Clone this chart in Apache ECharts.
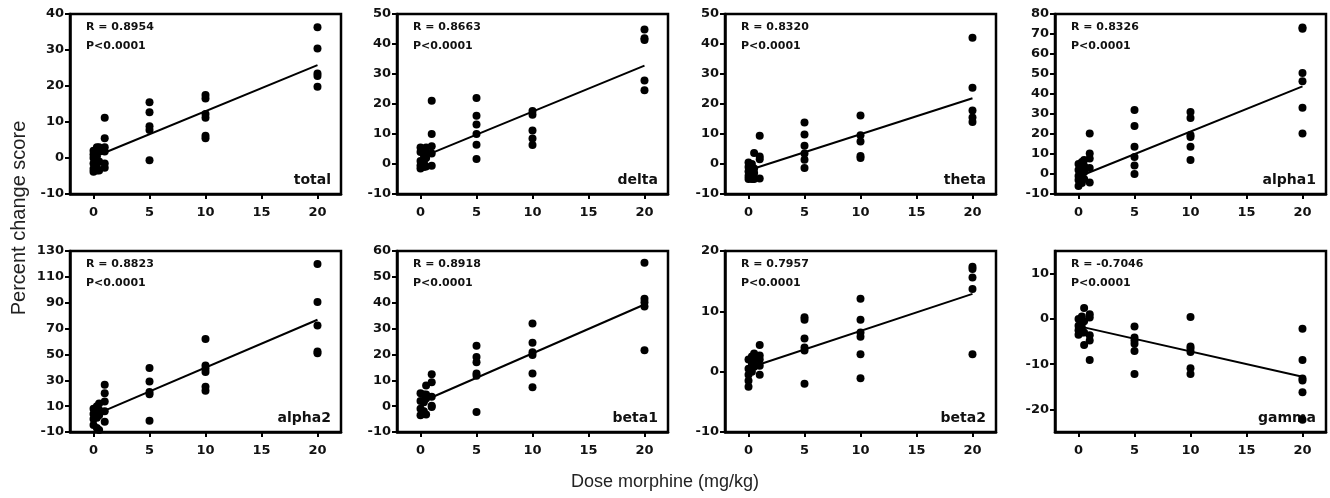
<!DOCTYPE html>
<html>
<head>
<meta charset="utf-8">
<script src="https://cdn.jsdelivr.net/npm/echarts@6/dist/echarts.min.js"></script>
<style>
  html, body { margin: 0; padding: 0; background: #fff; }
  #main { width: 1330px; height: 498px; }
</style>
</head>
<body>
<div id="main"></div>
<script>
// 剂量分组 (mg/kg)
const doses = [0, 0.3, 0.5, 1, 5, 10, 20];

// 每个面板: 每个剂量组的百分比变化
const totalScores = [[2, 0, -1.5, -3, -3.8, 1], [2.5, -2.5, 3, -3.5, 0.5], [3, 2, -1, -3.5], [11.2, 5.5, 3, 1.8, -1.5, -2.7], [15.5, 12.7, 8.8, 7.8, -0.6], [17.5, 16.5, 12.2, 11.2, 6.2, 5.5], [36.3, 30.4, 23.5, 22.8, 19.8]];
const deltaScores = [[5.5, 4, 1, -0.5, -1.5], [5, 3, 0.5, -1], [5.5, 4.2, 2, -0.8], [21.1, 10, 5.9, 3.5, -0.6], [22, 16.1, 13.2, 10, 6.4, 1.7], [17.7, 16.4, 11.2, 8.5, 6.3], [44.8, 41.9, 41.3, 27.8, 24.6]];
const thetaScores = [[0.5, -1, -2.5, -4, -5], [0, -2, -3.5, -5], [3.7, -1.5, -3, -5], [9.4, 2.5, 1.6, -4.8], [13.8, 9.8, 6.1, 3.5, 1.4, -1.3], [16.2, 9.6, 7.5, 2.7, 2.0], [42.1, 25.4, 17.8, 15.5, 14.0]];
const alpha1Scores = [[5, 2, -1, -3, -6], [6, 3, 0, -4.5], [7, 4, 1, -2.5], [20.3, 10.2, 7.8, 3, -4.3], [32, 24, 13.6, 8.5, 4.2, 0], [31, 28, 19.5, 18.5, 13.6, 7], [73.3, 72.6, 50.5, 46.4, 33.1, 20.3]];
const alpha2Scores = [[8, 4, 0, -4.5], [10, 6, 1, -7], [12, 7, 3, -8.5], [26.5, 20, 13.5, 6, -2], [39.5, 29, 21, 19.2, -1.3], [62, 41.5, 39, 36.5, 25, 22], [120, 90.5, 72.3, 52.2, 51]];
const beta1Scores = [[5, 2, -1, -3.5], [4.5, 1.5, -2, -3], [8, 4.5, 3, -3.2], [12.3, 9.2, 3.6, 0.2, -0.3], [23.4, 19, 17, 12.6, 11.8, -2.3], [32, 24.5, 20.8, 19.8, 12.6, 7.3], [55.5, 41.5, 40.2, 38.5, 21.6]];
const beta2Scores = [[2, 0.5, -0.5, -1.5, -2.5], [2.5, 1.5, 0, 1], [3, 2, 0.8, 1.8], [4.4, 2.7, 2.0, 1.0, -0.5], [9.0, 8.6, 5.5, 4.0, 3.5, -2.0], [12.1, 8.6, 6.5, 5.8, 2.9, -1.1], [17.4, 17.0, 15.6, 13.7, 2.9]];
const gammaScores = [[0, -1.5, -2.5, -3.5], [0.5, -1, -2, -3], [2.4, -0.5, -3, -5.8], [1.0, 0.3, -3.6, -4.8, -9.1], [-1.7, -4.1, -4.8, -5.5, -7.1, -12.2], [0.4, -6.1, -6.6, -7.3, -10.9, -12.2], [-2.2, -9.1, -13.2, -13.6, -16.2, -22.3]];

const panelScores = [totalScores, deltaScores, thetaScores, alpha1Scores, alpha2Scores, beta1Scores, beta2Scores, gammaScores];
const panelNames = ['total', 'delta', 'theta', 'alpha1', 'alpha2', 'beta1', 'beta2', 'gamma'];
const rTexts = ['R = 0.8954', 'R = 0.8663', 'R = 0.8320', 'R = 0.8326', 'R = 0.8823', 'R = 0.8918', 'R = 0.7957', 'R = -0.7046'];
const pText = 'P<0.0001';

// 回归线在 x=0 与 x=20 处的值
const fitAt0 = [0.2, 2.1, -2.1, -1.4, 2.8, 1.5, 0.6, -1.6];
const fitAt20 = [25.8, 32.8, 21.9, 43.8, 76.8, 39.3, 12.9, -12.8];
const fitDoses = [0, 20];

// 坐标轴
const yMins = [-10, -10, -10, -10, -10, -10, -10, -25];
const yMaxs = [40, 50, 50, 80, 130, 60, 20, 15];
const yTicks = [
    [-10, 0, 10, 20, 30, 40],
    [-10, 0, 10, 20, 30, 40, 50],
    [-10, 0, 10, 20, 30, 40, 50],
    [-10, 0, 10, 20, 30, 40, 50, 60, 70, 80],
    [-10, 10, 30, 50, 70, 90, 110, 130],
    [-10, 0, 10, 20, 30, 40, 50, 60],
    [-10, 0, 10, 20],
    [-20, -10, 0, 10]
];
const xTicks = [0, 5, 10, 15, 20];

let chart = echarts.init(document.getElementById('main'));

// 面板位置
const lefts = [70, 397, 725, 1055];
const tops = [14, 251];
const panelW = 271;
const heights = [180, 181];

const tickFont = '"DejaVu Sans", sans-serif';
const titleFont = '"Liberation Sans", Arial, sans-serif';

let grids = [], xAxes = [], yAxes = [], series = [], graphics = [];

for (let i = 0; i < 8; i++) {
    let col = i % 4, row = Math.floor(i / 4);
    let gl = lefts[col], gt = tops[row], gh = heights[row];
    grids.push({
        left: gl, top: gt, width: panelW, height: gh,
        show: true, borderColor: '#000', borderWidth: 2.5, backgroundColor: 'transparent'
    });
    xAxes.push({
        type: 'value', gridIndex: i, min: -2.1, max: 22.1,
        axisLine: { show: true, onZero: false, lineStyle: { color: '#000', width: 2.5 } },
        axisTick: { show: true, customValues: xTicks, length: 5, lineStyle: { color: '#000', width: 2 } },
        axisLabel: { customValues: xTicks, color: '#111', fontSize: 13, fontWeight: 'bold', fontFamily: tickFont, margin: 12 },
        splitLine: { show: false }
    });
    yAxes.push({
        type: 'value', gridIndex: i, min: yMins[i], max: yMaxs[i],
        axisLine: { show: true, onZero: false, lineStyle: { color: '#000', width: 2.5 } },
        axisTick: { show: true, customValues: yTicks[i], length: 5, lineStyle: { color: '#000', width: 2 } },
        axisLabel: { customValues: yTicks[i], color: '#111', fontSize: 13, fontWeight: 'bold', fontFamily: tickFont, margin: 6 },
        splitLine: { show: false }
    });

    let points = [];
    panelScores[i].forEach(function (group, g) {
        group.forEach(function (v) {
            points.push([doses[g], v]);
        });
    });
    series.push({
        type: 'scatter', xAxisIndex: i, yAxisIndex: i,
        data: points, symbolSize: 8,
        itemStyle: { color: '#000', opacity: 1 }, silent: true
    });
    series.push({
        type: 'line', xAxisIndex: i, yAxisIndex: i,
        data: [[fitDoses[0], fitAt0[i]], [fitDoses[1], fitAt20[i]]],
        showSymbol: false, lineStyle: { color: '#000', width: 2 }, silent: true
    });

    // 注释文字
    graphics.push({
        type: 'text', x: gl + 16, y: gt + 13,
        style: { text: rTexts[i], font: 'bold 11px ' + tickFont, fill: '#111', textVerticalAlign: 'middle' }
    });
    graphics.push({
        type: 'text', x: gl + 16, y: gt + 32,
        style: { text: pText, font: 'bold 11px ' + tickFont, fill: '#111', textVerticalAlign: 'middle' }
    });
    graphics.push({
        type: 'text', x: gl + panelW - 10, y: gt + gh - 14,
        style: { text: panelNames[i], font: 'bold 14px ' + tickFont, fill: '#111', textAlign: 'right', textVerticalAlign: 'middle' }
    });
}

graphics.push({
    type: 'text', x: 19, y: 218, rotation: Math.PI / 2,
    style: { text: 'Percent change score', font: '20px ' + titleFont, fill: '#222', textAlign: 'center', textVerticalAlign: 'middle' }
});
graphics.push({
    type: 'text', x: 665, y: 482,
    style: { text: 'Dose morphine (mg/kg)', font: '18px ' + titleFont, fill: '#222', textAlign: 'center', textVerticalAlign: 'middle' }
});

let option = {
    animation: false,
    grid: grids,
    xAxis: xAxes,
    yAxis: yAxes,
    series: series,
    graphic: graphics
};

chart.setOption(option);
</script>
</body>
</html>
